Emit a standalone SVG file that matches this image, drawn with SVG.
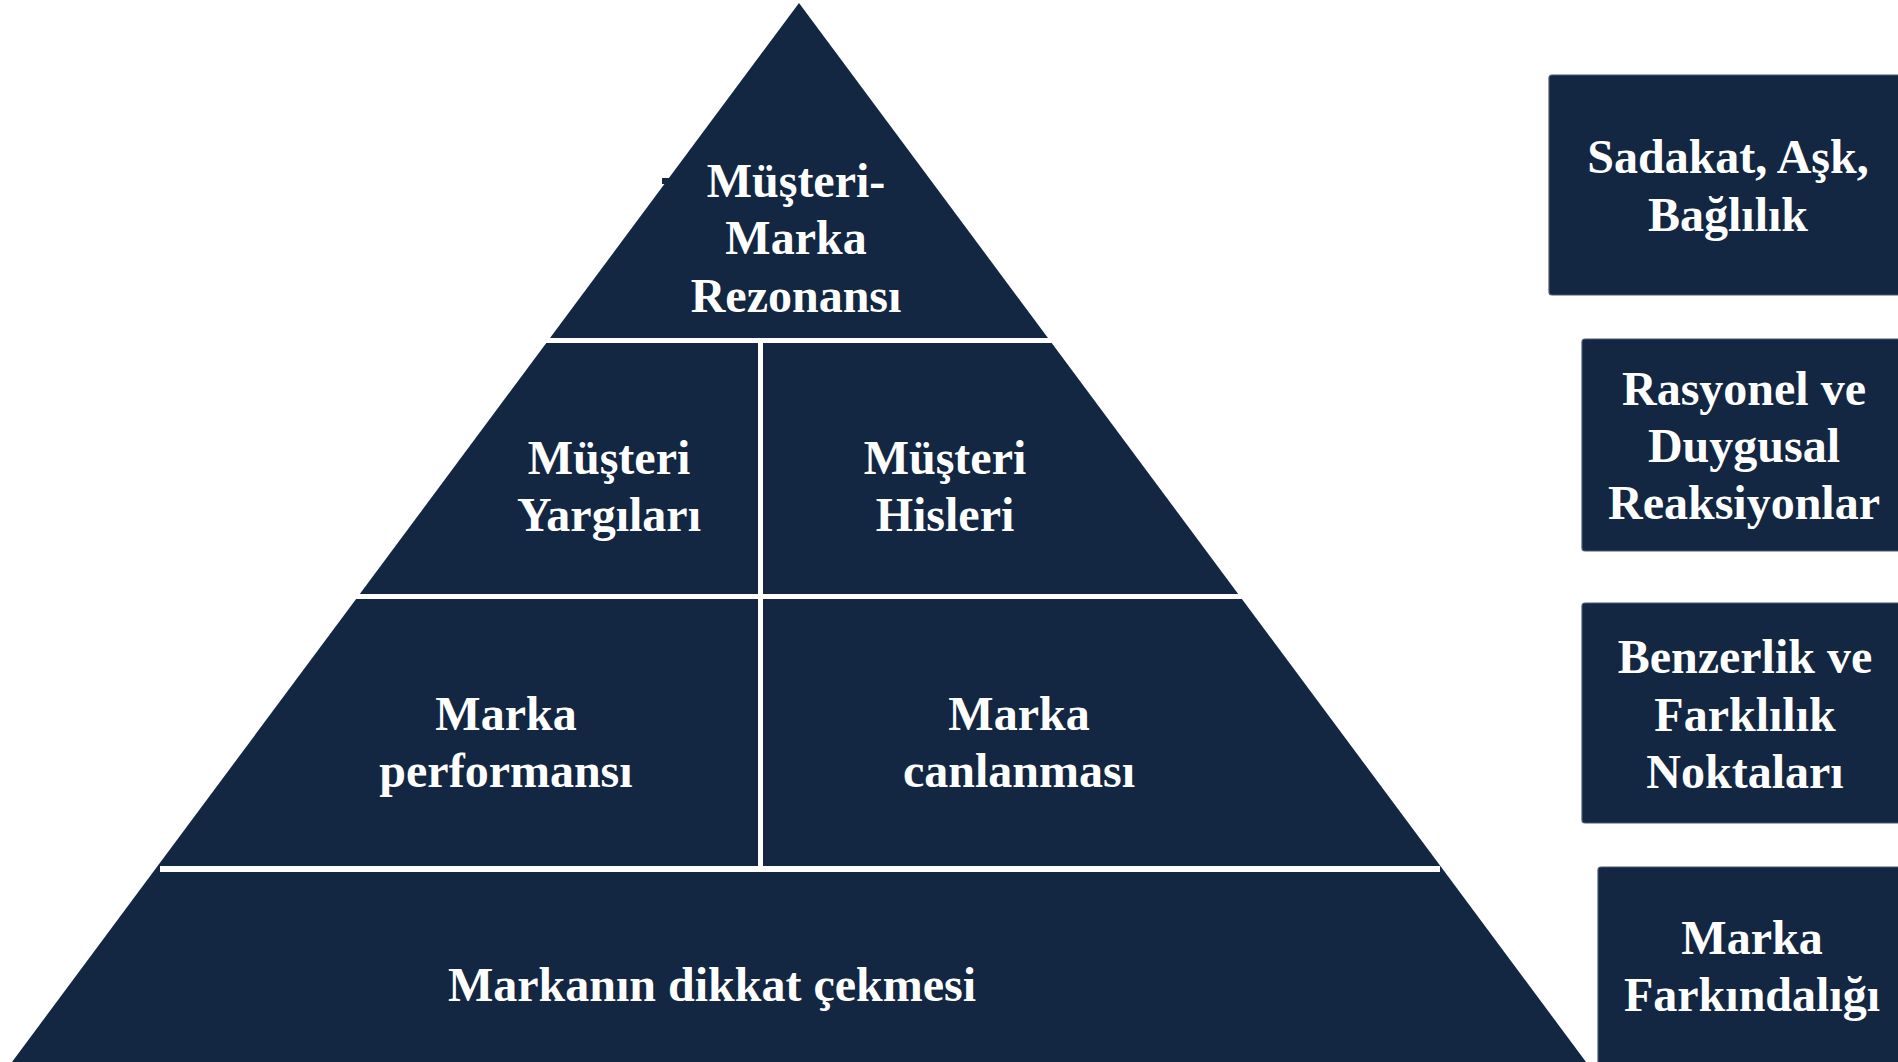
<svg xmlns="http://www.w3.org/2000/svg" width="1898" height="1062" viewBox="0 0 1898 1062">
  <style>
    .tier { fill: #132743; }
    .box { fill: #132743; stroke: #4a5a70; stroke-width: 1.2; }
    .lbl { font-family: "Liberation Serif", "Times New Roman", serif; font-weight: bold; font-size: 48px; fill: #ffffff; text-anchor: middle; }
    .gap { fill: #ffffff; }
  </style>
  <rect x="0" y="0" width="1898" height="1062" fill="#ffffff"/>

  <g id="tier-resonance">
    <polygon class="tier" points="799,3 1048,338 550,338"/>
    <rect class="tier" x="662" y="178" width="7" height="6"/>
    <text class="lbl" x="796" y="197">Müşteri-</text>
    <text class="lbl" x="796" y="254">Marka</text>
    <text class="lbl" x="796" y="312">Rezonansı</text>
  </g>

  <g id="tier-judgments">
    <polygon class="tier" points="546.3,343 758,343 758,594 359.8,594"/>
    <text class="lbl" x="609" y="474">Müşteri</text>
    <text class="lbl" x="609" y="531">Yargıları</text>
  </g>

  <g id="tier-feelings">
    <polygon class="tier" points="763,343 1051.7,343 1238.2,594 763,594"/>
    <text class="lbl" x="945" y="474">Müşteri</text>
    <text class="lbl" x="945" y="531">Hisleri</text>
  </g>

  <g id="tier-performance">
    <polygon class="tier" points="356.1,599 758,599 758,866 157.6,866"/>
    <text class="lbl" x="506" y="730">Marka</text>
    <text class="lbl" x="506" y="787">performansı</text>
  </g>

  <g id="tier-imagery">
    <polygon class="tier" points="763,599 1241.9,599 1440.4,866 763,866"/>
    <text class="lbl" x="1019" y="730">Marka</text>
    <text class="lbl" x="1019" y="787">canlanması</text>
  </g>

  <g id="tier-salience">
    <polygon class="tier" points="157.6,866 1440.4,866 1586,1062 12,1062"/>
    <rect class="gap" x="160" y="866" width="1280" height="6"/>
    <text class="lbl" x="712" y="1001">Markanın dikkat çekmesi</text>
  </g>

  <g id="box-loyalty">
    <rect class="box" x="1549" y="75" width="360" height="220" rx="3"/>
    <text class="lbl" x="1728" y="173">Sadakat, Aşk,</text>
    <text class="lbl" x="1728" y="231">Bağlılık</text>
  </g>

  <g id="box-reactions">
    <rect class="box" x="1582" y="339" width="330" height="212" rx="3"/>
    <text class="lbl" x="1744" y="405">Rasyonel ve</text>
    <text class="lbl" x="1744" y="462">Duygusal</text>
    <text class="lbl" x="1744" y="519">Reaksiyonlar</text>
  </g>

  <g id="box-points">
    <rect class="box" x="1582" y="603" width="330" height="220" rx="3"/>
    <text class="lbl" x="1745" y="673">Benzerlik ve</text>
    <text class="lbl" x="1745" y="731">Farklılık</text>
    <text class="lbl" x="1745" y="788">Noktaları</text>
  </g>

  <g id="box-awareness">
    <rect class="box" x="1598" y="867" width="320" height="220" rx="3"/>
    <text class="lbl" x="1752" y="954">Marka</text>
    <text class="lbl" x="1752" y="1011">Farkındalığı</text>
  </g>

  <g id="connectors"></g>
</svg>
